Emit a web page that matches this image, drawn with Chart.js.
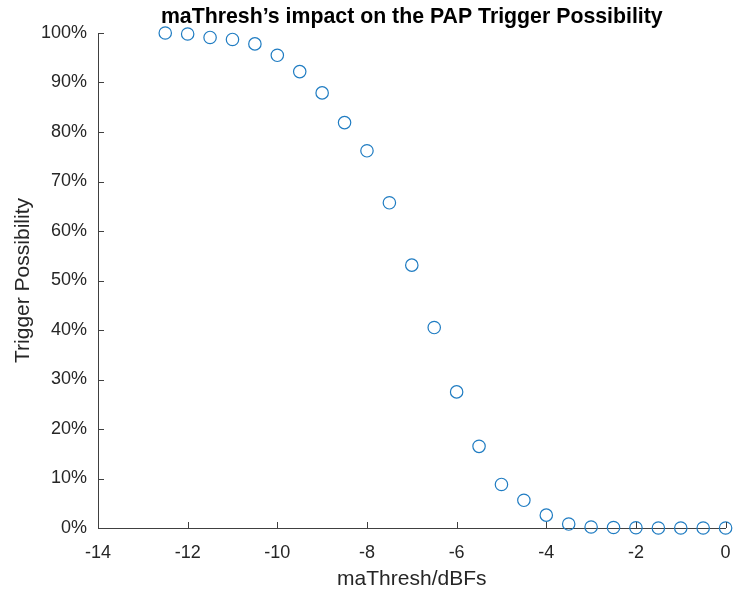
<!DOCTYPE html>
<html>
<head>
<meta charset="utf-8">
<script src="https://cdn.jsdelivr.net/npm/chart.js@4/dist/chart.umd.min.js"></script>
<style>
  html, body { margin: 0; padding: 0; background: #ffffff; }
  #wrap { width: 733px; height: 590px; }
</style>
</head>
<body>
<div id="wrap"><canvas id="c" width="733" height="590"></canvas></div>
<script>
// maThresh values (dBFs)
const maThresh = [-12.5, -12, -11.5, -11, -10.5, -10, -9.5, -9, -8.5, -8, -7.5, -7, -6.5, -6, -5.5, -5, -4.5, -4, -3.5, -3, -2.5, -2, -1.5, -1, -0.5, 0];
// Trigger possibility (%)
const triggerPossibility = [100, 99.8, 99.1, 98.7, 97.8, 95.5, 92.2, 87.9, 81.9, 76.2, 65.7, 53.1, 40.5, 27.5, 16.5, 8.8, 5.6, 2.6, 0.8, 0.2, 0.1, 0.05, 0, 0, 0, 0];
// Axis ticks
const xTicks = [-14, -12, -10, -8, -6, -4, -2, 0];
const yTicks = [0, 10, 20, 30, 40, 50, 60, 70, 80, 90, 100];

const chartTitle = 'maThresh\u2019s impact on the PAP Trigger Possibility';
const xTitle = 'maThresh/dBFs';
const yTitle = 'Trigger Possibility';

const points = maThresh.map((x, i) => ({ x: x, y: triggerPossibility[i] }));

const axisColor = '#262626';
const lineColor = '#404040';
const FONT = '"Liberation Sans", Arial, Helvetica, sans-serif';

const inwardTicks = {
  id: 'inwardTicks',
  afterLayout(chart) {
    // center the title over the plot area
    if (chart.titleBlock) {
      chart.titleBlock.left = chart.chartArea.left;
      chart.titleBlock.right = chart.chartArea.right;
    }
  },
  afterDraw(chart) {
    const ctx = chart.ctx;
    const xs = chart.scales.x, ys = chart.scales.y;
    const area = chart.chartArea;
    ctx.save();
    ctx.strokeStyle = lineColor;
    ctx.lineWidth = 1;
    ctx.beginPath();
    xTicks.forEach(v => {
      const px = Math.round(xs.getPixelForValue(v)) + 0.5;
      ctx.moveTo(px, area.bottom);
      ctx.lineTo(px, area.bottom - 6);
    });
    yTicks.forEach(v => {
      const py = Math.round(ys.getPixelForValue(v)) + 0.5;
      ctx.moveTo(area.left, py);
      ctx.lineTo(area.left + 6, py);
    });
    ctx.stroke();
    ctx.restore();
  }
};

new Chart(document.getElementById('c'), {
  type: 'scatter',
  data: {
    datasets: [{
      data: points,
      showLine: false,
      pointStyle: 'circle',
      pointRadius: 6.2,
      pointHoverRadius: 6.2,
      pointBorderWidth: 1.2,
      pointBackgroundColor: 'rgba(0,0,0,0)',
      pointBorderColor: '#1f7cc2',
      clip: false
    }]
  },
  options: {
    responsive: false,
    animation: false,
    events: [],
    layout: { padding: { left: 0, right: 6, top: 0, bottom: 0 } },
    plugins: {
      legend: { display: false },
      tooltip: { enabled: false },
      title: {
        display: true,
        text: chartTitle,
        color: '#000000',
        font: { family: FONT, size: 21.3, weight: 'bold', lineHeight: 1.2 },
        padding: { top: 4.7, bottom: 2.74 }
      }
    },
    scales: {
      x: {
        type: 'linear',
        min: -14,
        max: 0,
        afterBuildTicks: (s) => { s.ticks = xTicks.map(v => ({ value: v })); },
        afterFit: (s) => { s.height = 62; s.paddingLeft = 0; s.paddingRight = 0; },
        grid: { display: false, drawTicks: false, tickLength: 0 },
        border: { display: true, color: lineColor, width: 1 },
        ticks: {
          color: axisColor,
          padding: 14,
          maxRotation: 0,
          font: { family: FONT, size: 18 },
          callback: (v) => String(v)
        },
        title: {
          display: true,
          text: xTitle,
          color: axisColor,
          font: { family: FONT, size: 21, lineHeight: 1.2 },
          padding: { top: 0, bottom: -2 }
        }
      },
      y: {
        type: 'linear',
        min: 0,
        max: 100,
        afterBuildTicks: (s) => { s.ticks = yTicks.map(v => ({ value: v })); },
        afterFit: (s) => { s.width = 98; },
        grid: { display: false, drawTicks: false, tickLength: 0 },
        border: { display: true, color: lineColor, width: 1 },
        ticks: {
          color: axisColor,
          padding: 11,
          font: { family: FONT, size: 18 },
          callback: (v) => v + '%'
        },
        title: {
          display: true,
          text: yTitle,
          color: axisColor,
          font: { family: FONT, size: 21, lineHeight: 1.2 },
          padding: { top: 11, bottom: 0 }
        }
      }
    }
  },
  plugins: [inwardTicks]
});
</script>
</body>
</html>
